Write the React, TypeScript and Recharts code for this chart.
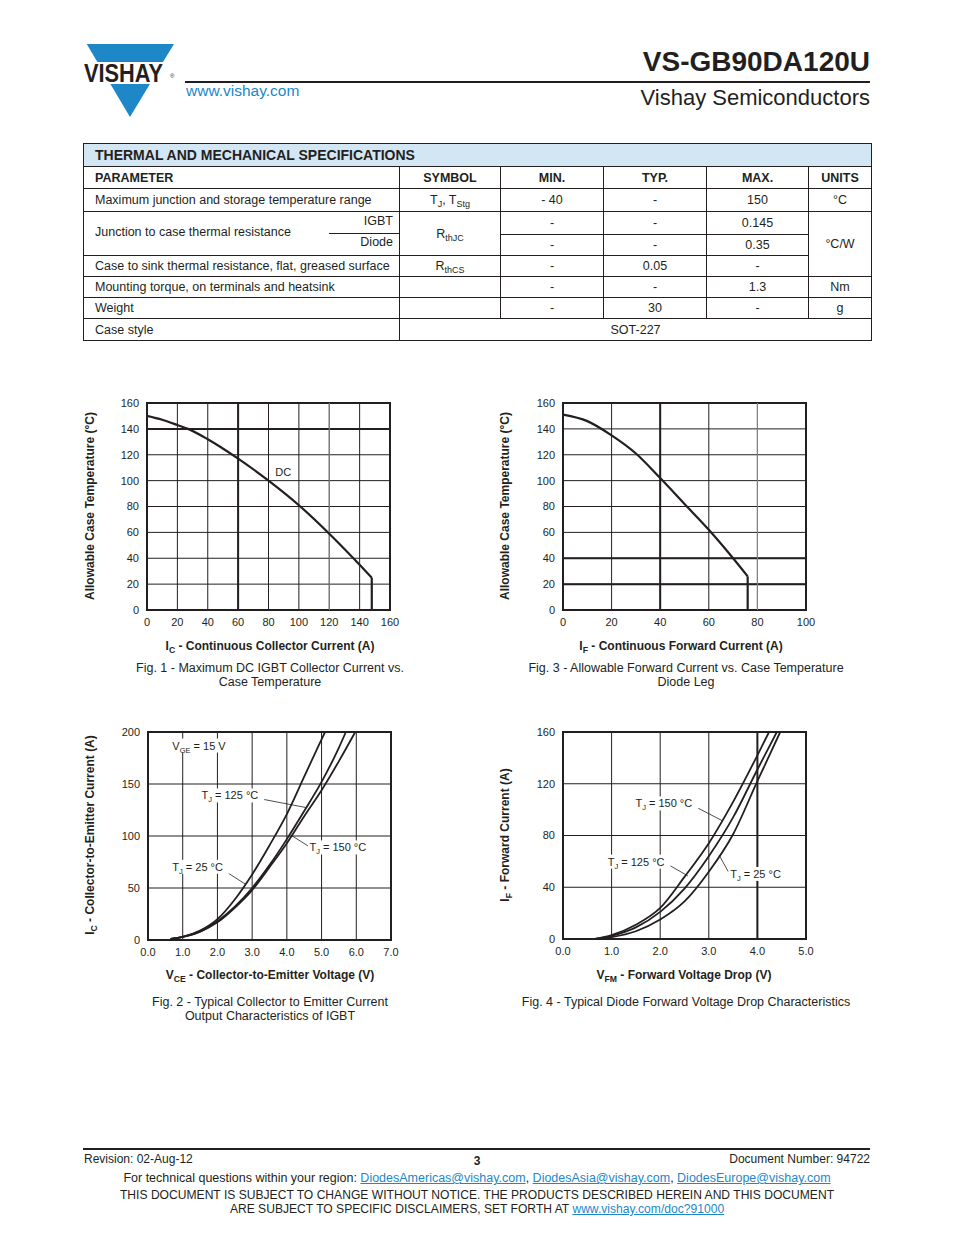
import React from 'react'
import { LineChart, Line, XAxis, YAxis, CartesianGrid, ReferenceArea, ReferenceLine, ReferenceDot } from 'recharts'

const INK = '#231f20'
const BLUE = '#1d87c7'
const FONT = '"Liberation Sans", Arial, Helvetica, sans-serif'

// Fig. 1 - max DC IGBT collector current vs case temperature
const fig1Current = [0, 10, 20, 27, 40, 60, 80, 100, 120, 140, 148]
const fig1Temp = [150, 147, 143, 140, 132, 117, 100, 81, 59, 35, 25]
const fig1Drop = [148, 148]
const fig1DropTemp = [25, 0]
const fig1XTicks = [0, 20, 40, 60, 80, 100, 120, 140, 160]

// Fig. 3 - diode leg
const fig3Current = [0, 10, 20, 30, 40, 50, 60, 70, 76]
const fig3Temp = [151, 146, 135, 121, 102, 82, 62, 40, 26]
const fig3Drop = [76, 76]
const fig3DropTemp = [26, 0]
const fig3XTicks = [0, 20, 40, 60, 80, 100]

const tempTicks = [0, 20, 40, 60, 80, 100, 120, 140, 160]

// Fig. 2 - IGBT output characteristics (VGE = 15 V)
const fig2V25 = [0.65, 1.0, 1.5, 2.0, 2.5, 3.0, 3.5, 4.0, 4.5, 5.0, 5.1]
const fig2I25 = [1, 3, 9, 20, 39, 63, 91, 121, 157, 193, 200]
const fig2V125 = [0.65, 1.0, 1.5, 2.0, 2.5, 3.0, 3.5, 4.0, 4.5, 5.0, 5.5, 5.7]
const fig2I125 = [1, 3, 8, 18, 32, 50, 72, 97, 124, 152, 185, 200]
const fig2V150 = [0.65, 1.0, 1.5, 2.0, 2.5, 3.0, 3.5, 4.0, 4.5, 5.0, 5.5, 5.97]
const fig2I150 = [1, 3, 8, 17, 31, 48, 70, 93, 119, 144, 172, 200]
const fig2XTicks = [0, 1, 2, 3, 4, 5, 6, 7]
const fig2YTicks = [0, 50, 100, 150, 200]

// Fig. 4 - diode forward voltage drop
const fig4V150 = [0.66, 1.0, 1.5, 2.0, 2.5, 3.0, 3.5, 4.0, 4.24]
const fig4I150 = [0, 3, 11, 24, 48, 74, 106, 142, 160]
const fig4V125 = [0.66, 1.0, 1.5, 2.0, 2.5, 3.0, 3.5, 4.0, 4.4]
const fig4I125 = [0, 2.5, 9, 21, 39, 64, 94, 131, 160]
const fig4V25 = [0.66, 1.0, 1.5, 2.0, 2.5, 3.0, 3.5, 4.0, 4.47]
const fig4I25 = [0, 1.5, 6, 15, 29, 52, 81, 122, 160]
const fig4XTicks = [0, 1, 2, 3, 4, 5]
const fig4YTicks = [0, 40, 80, 120, 160]

// curve labels (left edge / middle of text, in data units) and leader lines
const fig2Notes = [
  { x: 0.7, y: 187, main: 'V', sub: 'GE', rest: ' = 15 V' },
  { x: 1.54, y: 139, main: 'T', sub: 'J', rest: ' = 125 °C' },
  { x: 4.65, y: 89, main: 'T', sub: 'J', rest: ' = 150 °C' },
  { x: 0.7, y: 70.4, main: 'T', sub: 'J', rest: ' = 25 °C' },
]
const fig2Leaders = [
  [3.31, 135.3, 4.56, 127.3],
  [4.12, 100.8, 4.65, 89.6],
  [2.25, 65.6, 2.8, 53.8],
]
const fig4Notes = [
  { x: 1.49, y: 104.8, main: 'T', sub: 'J', rest: ' = 150 °C' },
  { x: 0.92, y: 59.8, main: 'T', sub: 'J', rest: ' = 125 °C' },
  { x: 3.44, y: 50.3, main: 'T', sub: 'J', rest: ' = 25 °C' },
]
const fig4Leaders = [
  [2.75, 101.7, 3.29, 91.2],
  [2.14, 58, 2.57, 48.8],
  [3.21, 65, 3.4, 52.1],
]

const pts = (xs: number[], ys: number[]) => xs.map((x, i) => ({ x, y: ys[i] }))

function Tag({ cx, cy, main, sub = '', rest }: any) {
  const w = (main.length + rest.length) * 5.7 + sub.length * 4.3 + 3
  return (
    <g>
      <rect x={cx - 1.5} y={cy - 7} width={w} height={14} fill="#fff" />
      <text x={cx} y={cy + 4} fontSize={11} fill={INK} fontFamily={FONT}>
        {main}
        {sub ? <tspan fontSize={7.5} dy={3}>{sub}</tspan> : null}
        <tspan dy={sub ? -3 : 0}>{rest.replace(/ /g, '\u00a0')}</tspan>
      </text>
    </g>
  )
}

function Txt({ x, y, align = 'left', size = 12.5, bold = false, color = INK, children }: any) {
  const style: React.CSSProperties = {
    position: 'absolute', top: y - 9, lineHeight: '18px', fontSize: size,
    fontWeight: bold ? 700 : 400, color, whiteSpace: 'nowrap',
  }
  if (align === 'left') style.left = x
  else if (align === 'right') style.right = 954 - x
  else { style.left = x; style.transform = 'translateX(-50%)' }
  return <div style={style}>{children}</div>
}

function VTxt({ x, y, children }: any) {
  return (
    <div style={{
      position: 'absolute', left: x, top: y, transform: 'translate(-50%,-50%) rotate(-90deg)',
      whiteSpace: 'nowrap', fontSize: 12, fontWeight: 700, lineHeight: '14px', color: INK,
    }}>{children}</div>
  )
}

const Sub = ({ children }: any) => (
  <sub style={{ fontSize: '0.72em', verticalAlign: '-0.3em', lineHeight: 0 }}>{children}</sub>
)
const Link = ({ children }: any) => (
  <span style={{ color: BLUE, textDecoration: 'underline' }}>{children}</span>
)

const tick = { fontSize: 11, fill: INK, fontFamily: FONT }

function Plot({ left, top, height, xMax, xTicks, yMax, yTicks, fmt, children }: any) {
  return (
    <div style={{ position: 'absolute', left, top }}>
      <LineChart width={313} height={height} margin={{ top: 10, right: 20, bottom: 0, left: 0 }}>
        <CartesianGrid stroke={INK} strokeWidth={1} />
        <XAxis type="number" dataKey="x" domain={[0, xMax]} ticks={xTicks} interval={0}
          tickLine={false} axisLine={false} height={30} tick={tick} tickFormatter={fmt} />
        <YAxis type="number" dataKey="y" domain={[0, yMax]} ticks={yTicks} interval={0}
          tickLine={false} axisLine={false} width={50} tick={tick} />
        <ReferenceArea x1={0} x2={xMax} y1={0} y2={yMax} fill="none" stroke={INK} strokeWidth={2} />
        {children}
      </LineChart>
    </div>
  )
}

const curve = (data: any[], w = 2) => (
  <Line data={data} dataKey="y" type="monotone" stroke={INK} strokeWidth={w} dot={false}
    activeDot={false} isAnimationActive={false} />
)
const straight = (data: any[], w = 2) => (
  <Line data={data} dataKey="y" type="linear" stroke={INK} strokeWidth={w} dot={false}
    activeDot={false} isAnimationActive={false} />
)

function Logo() {
  return (
    <svg style={{ position: 'absolute', left: 80, top: 40 }} width={100} height={82}>
      <polygon points="6.7,4 94,4 83,22 17.4,22" fill={BLUE} />
      <polygon points="30.4,44 69.9,44 50,77" fill={BLUE} />
      <g transform="translate(4,42) scale(0.87,1)">
        <text x={0} y={0} fontFamily={FONT} fontWeight={700} fontSize={25} fill={INK}>VISHAY</text>
      </g>
      <text x={90} y={38} fontFamily={FONT} fontSize={6} fill={INK}>®</text>
    </svg>
  )
}

export default function App() {
  const cell: React.CSSProperties = { border: `1px solid ${INK}`, textAlign: 'center', padding: 0, verticalAlign: 'middle' }
  const pcell: React.CSSProperties = { ...cell, textAlign: 'left', paddingLeft: 11 }
  return (
    <div style={{ position: 'absolute', left: 0, top: 0, width: 954, height: 1235, background: '#fff', fontFamily: FONT, color: INK }}>
      {/* header */}
      <Logo />
      <div style={{ position: 'absolute', left: 185, top: 81, width: 685, height: 2, background: INK }} />
      <Txt x={870} y={62} align="right" size={28} bold>VS-GB90DA120U</Txt>
      <Txt x={186} y={91} size={15.5} color={BLUE}>www.vishay.com</Txt>
      <Txt x={870} y={98} align="right" size={22}>Vishay Semiconductors</Txt>

      {/* spec table */}
      <table style={{ position: 'absolute', left: 83, top: 143, width: 788, borderCollapse: 'collapse', fontSize: 12.5, tableLayout: 'fixed' }}>
        <colgroup>
          <col style={{ width: 316 }} /><col style={{ width: 101 }} /><col style={{ width: 103 }} />
          <col style={{ width: 103 }} /><col style={{ width: 102 }} /><col style={{ width: 63 }} />
        </colgroup>
        <tbody>
          <tr style={{ height: 23 }}>
            <td colSpan={6} style={{ ...pcell, background: '#d3e6f3', fontWeight: 700, fontSize: 14 }}>THERMAL AND MECHANICAL SPECIFICATIONS</td>
          </tr>
          <tr style={{ height: 22, fontWeight: 700 }}>
            <td style={pcell}>PARAMETER</td><td style={cell}>SYMBOL</td><td style={cell}>MIN.</td>
            <td style={cell}>TYP.</td><td style={cell}>MAX.</td><td style={cell}>UNITS</td>
          </tr>
          <tr style={{ height: 23 }}>
            <td style={pcell}>Maximum junction and storage temperature range</td>
            <td style={cell}>T<Sub>J</Sub>, T<Sub>Stg</Sub></td><td style={cell}>- 40</td><td style={cell}>-</td>
            <td style={cell}>150</td><td style={cell}>°C</td>
          </tr>
          <tr style={{ height: 22 }}>
            <td rowSpan={2} style={{ ...cell, padding: 0 }}>
              <div style={{ position: 'relative', height: 43 }}>
                <div style={{ position: 'absolute', left: 11, top: 13 }}>Junction to case thermal resistance</div>
                <div style={{ position: 'absolute', right: 6, top: 2 }}>IGBT</div>
                <div style={{ position: 'absolute', right: 6, top: 23 }}>Diode</div>
                <div style={{ position: 'absolute', left: 245, right: 0, top: 21, borderTop: `1px solid ${INK}` }} />
              </div>
            </td>
            <td rowSpan={2} style={cell}>R<Sub>thJC</Sub></td>
            <td style={cell}>-</td><td style={cell}>-</td><td style={cell}>0.145</td>
            <td rowSpan={3} style={cell}>°C/W</td>
          </tr>
          <tr style={{ height: 21 }}>
            <td style={cell}>-</td><td style={cell}>-</td><td style={cell}>0.35</td>
          </tr>
          <tr style={{ height: 21 }}>
            <td style={pcell}>Case to sink thermal resistance, flat, greased surface</td>
            <td style={cell}>R<Sub>thCS</Sub></td><td style={cell}>-</td><td style={cell}>0.05</td><td style={cell}>-</td>
          </tr>
          <tr style={{ height: 21 }}>
            <td style={pcell}>Mounting torque, on terminals and heatsink</td>
            <td style={cell}></td><td style={cell}>-</td><td style={cell}>-</td><td style={cell}>1.3</td><td style={cell}>Nm</td>
          </tr>
          <tr style={{ height: 21 }}>
            <td style={pcell}>Weight</td>
            <td style={cell}></td><td style={cell}>-</td><td style={cell}>30</td><td style={cell}>-</td><td style={cell}>g</td>
          </tr>
          <tr style={{ height: 22 }}>
            <td style={pcell}>Case style</td>
            <td colSpan={5} style={cell}>SOT-227</td>
          </tr>
        </tbody>
      </table>

      {/* Fig. 1 */}
      <Plot left={97} top={393} height={247} xMax={160} xTicks={fig1XTicks} yMax={160} yTicks={tempTicks}>
        <ReferenceLine x={60} stroke={INK} strokeWidth={2} />
        <ReferenceLine y={140} stroke={INK} strokeWidth={2} />
        <ReferenceLine x={120} stroke="#8a8a8a" strokeWidth={1} />
        {curve(pts(fig1Current, fig1Temp), 2.2)}
        {straight(pts(fig1Drop, fig1DropTemp), 2.2)}
        <ReferenceDot x={84.5} y={106.5} r={0} shape={(p: any) => <Tag cx={p.cx} cy={p.cy} main="DC" rest="" />} />
      </Plot>
      <VTxt x={90} y={506}>Allowable Case Temperature (°C)</VTxt>
      <Txt x={270} y={646} align="center" size={12} bold>I<Sub>C</Sub> - Continuous Collector Current (A)</Txt>
      <Txt x={270} y={668} align="center">Fig. 1 - Maximum DC IGBT Collector Current vs.</Txt>
      <Txt x={270} y={682} align="center">Case Temperature</Txt>

      {/* Fig. 3 */}
      <Plot left={513} top={393} height={247} xMax={100} xTicks={fig3XTicks} yMax={160} yTicks={tempTicks}>
        <ReferenceLine x={40} stroke={INK} strokeWidth={2} />
        <ReferenceLine y={40} stroke={INK} strokeWidth={2} />
        <ReferenceLine y={20} stroke={INK} strokeWidth={2} />
        <ReferenceLine x={80} stroke="#8a8a8a" strokeWidth={1} />
        {curve(pts(fig3Current, fig3Temp), 2.2)}
        {straight(pts(fig3Drop, fig3DropTemp), 2.2)}
      </Plot>
      <VTxt x={505} y={506}>Allowable Case Temperature (°C)</VTxt>
      <Txt x={681} y={646} align="center" size={12} bold>I<Sub>F</Sub> - Continuous Forward Current (A)</Txt>
      <Txt x={686} y={668} align="center">Fig. 3 - Allowable Forward Current vs. Case Temperature</Txt>
      <Txt x={686} y={682} align="center">Diode Leg</Txt>

      {/* Fig. 2 */}
      <Plot left={98} top={722} height={248} xMax={7} xTicks={fig2XTicks} yMax={200} yTicks={fig2YTicks}
        fmt={(v: number) => v.toFixed(1)}>
        {curve(pts(fig2V25, fig2I25), 1.8)}
        {curve(pts(fig2V125, fig2I125), 1.8)}
        {curve(pts(fig2V150, fig2I150), 1.8)}
        {fig2Leaders.map((l, i) => (
          <ReferenceLine key={'l' + i} segment={[{ x: l[0], y: l[1] }, { x: l[2], y: l[3] }]} stroke={INK} strokeWidth={0.8} />
        ))}
        {fig2Notes.map((n, i) => (
          <ReferenceDot key={'n' + i} x={n.x} y={n.y} r={0}
            shape={(p: any) => <Tag cx={p.cx} cy={p.cy} main={n.main} sub={n.sub} rest={n.rest} />} />
        ))}
      </Plot>
      <VTxt x={90} y={835}>I<Sub>C</Sub> - Collector-to-Emitter Current (A)</VTxt>
      <Txt x={270} y={975} align="center" size={12} bold>V<Sub>CE</Sub> - Collector-to-Emitter Voltage (V)</Txt>
      <Txt x={270} y={1002} align="center">Fig. 2 - Typical Collector to Emitter Current</Txt>
      <Txt x={270} y={1016} align="center">Output Characteristics of IGBT</Txt>

      {/* Fig. 4 */}
      <Plot left={513} top={722} height={247} xMax={5} xTicks={fig4XTicks} yMax={160} yTicks={fig4YTicks}
        fmt={(v: number) => v.toFixed(1)}>
        <ReferenceLine x={4} stroke={INK} strokeWidth={2} />
        {curve(pts(fig4V150, fig4I150), 1.8)}
        {curve(pts(fig4V125, fig4I125), 1.8)}
        {curve(pts(fig4V25, fig4I25), 1.8)}
        {fig4Leaders.map((l, i) => (
          <ReferenceLine key={'l' + i} segment={[{ x: l[0], y: l[1] }, { x: l[2], y: l[3] }]} stroke={INK} strokeWidth={0.8} />
        ))}
        {fig4Notes.map((n, i) => (
          <ReferenceDot key={'n' + i} x={n.x} y={n.y} r={0}
            shape={(p: any) => <Tag cx={p.cx} cy={p.cy} main={n.main} sub={n.sub} rest={n.rest} />} />
        ))}
      </Plot>
      <VTxt x={505} y={835}>I<Sub>F</Sub> - Forward Current (A)</VTxt>
      <Txt x={684} y={975} align="center" size={12} bold>V<Sub>FM</Sub> - Forward Voltage Drop (V)</Txt>
      <Txt x={686} y={1002} align="center">Fig. 4 - Typical Diode Forward Voltage Drop Characteristics</Txt>

      {/* footer */}
      <div style={{ position: 'absolute', left: 83, top: 1148, width: 787, height: 2, background: INK }} />
      <Txt x={84} y={1159} size={12}>Revision: 02-Aug-12</Txt>
      <Txt x={477} y={1161} align="center" size={12} bold>3</Txt>
      <Txt x={870} y={1159} align="right" size={12}>Document Number: 94722</Txt>
      <Txt x={477} y={1178} align="center" size={12.5}>
        For technical questions within your region: <Link>DiodesAmericas@vishay.com</Link>, <Link>DiodesAsia@vishay.com</Link>, <Link>DiodesEurope@vishay.com</Link>
      </Txt>
      <Txt x={477} y={1195} align="center" size={12.1}>THIS DOCUMENT IS SUBJECT TO CHANGE WITHOUT NOTICE. THE PRODUCTS DESCRIBED HEREIN AND THIS DOCUMENT</Txt>
      <Txt x={477} y={1209} align="center" size={12.1}>ARE SUBJECT TO SPECIFIC DISCLAIMERS, SET FORTH AT <Link>www.vishay.com/doc?91000</Link></Txt>
    </div>
  )
}
